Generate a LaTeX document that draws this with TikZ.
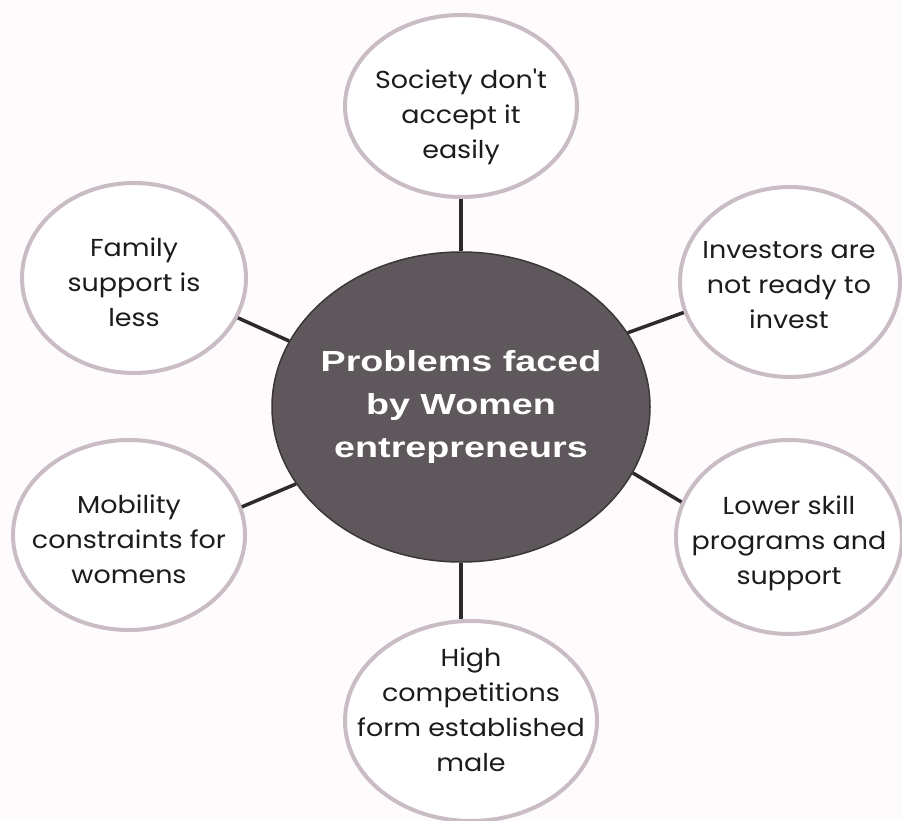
\documentclass[tikz,border=0pt]{standalone}
\usepackage{fontspec}
\newfontfamily\outfont{Poppins}[FakeStretch=1.1]
\newfontfamily\centerfont{Liberation Sans}[FakeStretch=1.3]
\usetikzlibrary{shapes.geometric}
\definecolor{bgcol}{HTML}{FDFBFC}
\definecolor{ringcol}{HTML}{C9BCC4}
\definecolor{hubfill}{HTML}{5E575C}
\definecolor{hubline}{HTML}{3B3638}
\definecolor{conncol}{HTML}{2E2A2C}
\definecolor{txtcol}{HTML}{1C1C1C}
\tikzset{
  ring/.style={ellipse, draw=ringcol, line width=4pt, fill=white, inner sep=0pt},
  ringtext/.style={align=center, text=txtcol, inner sep=0pt,
    font=\outfont\fontsize{24.5}{35}\selectfont},
  hub/.style={ellipse, draw=hubline, line width=1.5pt, fill=hubfill, inner sep=-80pt,
    align=center, text=white, font=\centerfont\bfseries\fontsize{29}{43}\selectfont},
  conn/.style={draw=conncol, line width=3.5pt}
}
\begin{document}
\begin{tikzpicture}[x=1pt,y=-1pt]
\fill[bgcol] (0,0) rectangle (902,821);
\useasboundingbox (0,0) rectangle (902,821);

\node[hub, minimum width=378pt, minimum height=310pt] (c) at (461,407)
  {Problems faced\\by Women\\entrepreneurs};

\node[ring, minimum width=232pt, minimum height=182pt] (soc) at (461,106) {};
\node[ringtext] (soct) at (461,117) {Society don't\\accept it\\easily};

\node[ring, minimum width=220pt, minimum height=190pt] (inv) at (790,282) {};
\node[ringtext] (invt) at (789,285) {Investors are\\not ready to\\invest};

\node[ring, minimum width=226pt, minimum height=194pt] (low) at (789,537) {};
\node[ringtext] (lowt) at (789,543) {Lower skill\\programs and\\support};

\node[ring, minimum width=252pt, minimum height=200pt] (high) at (471,721) {};
\node[ringtext] (hight) at (471,710) {High\\competitions\\form established\\male};

\node[ring, minimum width=232pt, minimum height=190pt] (mob) at (129,535) {};
\node[ringtext] (mobt) at (129,539) {Mobility\\constraints for\\womens};

\node[ring, minimum width=224pt, minimum height=190pt] (fam) at (134,278) {};
\node[ringtext] (famt) at (134,282) {Family\\support is\\less};

\draw[conn] (c.90) -- (soc.south);
\draw[conn] (c.24) -- (inv.196);
\draw[conn] (c.-21) -- (low.162);
\draw[conn] (c.270) -- (c.270 |- high.north);
\draw[conn] (c.205.4) -- (mob.14);
\draw[conn] (c.159.5) -- (fam.-21.6);
\end{tikzpicture}
\end{document}
